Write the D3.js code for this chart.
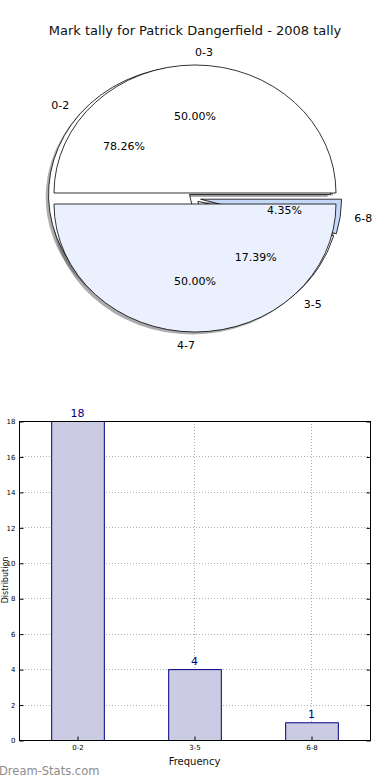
<!DOCTYPE html>
<html>
<head>
<meta charset="utf-8">
<script src="https://cdn.jsdelivr.net/npm/d3@7"></script>
<style>
  body { margin: 0; background: #fff; }
  svg { display: block; font-family: "DejaVu Sans", sans-serif; }
</style>
</head>
<body>
<script>
const width = 390;
const height = 780;

// outer pie (drawn first, mostly hidden)
const binLabels = ["0-2", "3-5", "6-8"];
const binValues = [18, 4, 1];
const binExplode = [0.05, 0.03, 0.04];
const binColors = ["#ffffff", "#ffffff", "#c6d8f8"];

// front pie
const halfLabels = ["0-3", "4-7"];
const halfValues = [50, 50];
const halfExplode = [0.043, 0.043];
const halfColors = ["#ffffff", "#eaf0fd"];

// bar chart
const barCats = ["0-2", "3-5", "6-8"];
const barValues = [18, 4, 1];
const yTicks = [0, 2, 4, 6, 8, 10, 12, 14, 16, 18];

const svg = d3.select("body").append("svg")
  .attr("width", width)
  .attr("height", height);

svg.append("text")
  .attr("x", 195).attr("y", 35)
  .attr("text-anchor", "middle")
  .attr("font-size", 13)
  .attr("fill", "#111")
  .text("Mark tally for Patrick Dangerfield - 2008 tally");

// ---- pies ----
const cx = 195, cy = 198.5, rx = 141, ry = 128;
const unit = 100;
const arc = d3.arc().innerRadius(0).outerRadius(unit);

function layout(values, explode) {
  // counterclockwise from 3 o'clock, like matplotlib
  const total = d3.sum(values);
  const arcs = d3.pie().sort(null)
    .startAngle(Math.PI / 2)
    .endAngle(Math.PI / 2 - 2 * Math.PI)(values);
  let acc = 0;
  return arcs.map((a, i) => {
    const t1 = 360 * acc / total;
    acc += values[i];
    const t2 = 360 * acc / total;
    const thetam = 2 * Math.PI * (t1 + t2) / 2 / 360;
    const ux = Math.cos(thetam), uy = -Math.sin(thetam);
    return {
      a, i, ux, uy,
      ox: cx + explode[i] * rx * ux,
      oy: cy + explode[i] * ry * uy
    };
  });
}

const back = layout(binValues, binExplode);
const front = layout(halfValues, halfExplode);

const pieG = svg.append("g");

function wedgeTransform(d, dx, dy) {
  return `translate(${d.ox + dx},${d.oy + dy}) scale(${rx / unit},${ry / unit})`;
}

// shadows of both pies sit under all wedges
function shadows(data, colors) {
  pieG.append("g").selectAll("path")
    .data(data).join("path")
    .attr("d", d => arc(d.a))
    .attr("transform", d => wedgeTransform(d, -0.02 * rx, 0.02 * ry))
    .attr("fill", d => {
      const c = d3.rgb(colors[d.i]);
      return d3.rgb(c.r * 0.3, c.g * 0.3, c.b * 0.3);
    })
    .attr("fill-opacity", 0.45);
}
shadows(back, binColors);
shadows(front, halfColors);

function wedges(data, colors) {
  pieG.append("g").selectAll("path")
    .data(data).join("path")
    .attr("d", d => arc(d.a))
    .attr("transform", d => wedgeTransform(d, 0, 0))
    .attr("fill", d => colors[d.i])
    .attr("stroke", "#000")
    .attr("stroke-width", 0.8)
    .attr("stroke-linejoin", "miter")
    .attr("vector-effect", "non-scaling-stroke");
}
wedges(back, binColors);
wedges(front, halfColors);

function texts(data, labels, values) {
  const total = d3.sum(values);
  const g = pieG.append("g").attr("font-size", 11).attr("fill", "#000");
  g.selectAll("text.lab")
    .data(data).join("text")
    .attr("class", "lab")
    .attr("x", d => d.ox + 1.1 * rx * d.ux)
    .attr("y", d => d.oy + 1.1 * ry * d.uy)
    .attr("dy", "0.35em")
    .attr("text-anchor", d => d.ux > 0 ? "start" : "end")
    .text(d => labels[d.i]);
  g.selectAll("text.pct")
    .data(data).join("text")
    .attr("class", "pct")
    .attr("x", d => d.ox + 0.6 * rx * d.ux)
    .attr("y", d => d.oy + 0.6 * ry * d.uy)
    .attr("dy", "0.35em")
    .attr("text-anchor", "middle")
    .text(d => (values[d.i] / total * 100).toFixed(2) + "%");
}
texts(back, binLabels, binValues);
texts(front, halfLabels, halfValues);

// ---- bar chart ----
const plotL = 19, plotR = 370, plotT = 421, plotB = 740;

const x = d3.scaleBand()
  .domain(barCats)
  .range([plotL, plotR])
  .paddingInner(0.55)
  .paddingOuter(0.275);

const y = d3.scaleLinear().domain([0, 18]).range([plotB, plotT]);

const grid = svg.append("g")
  .attr("stroke", "#b0b0b0")
  .attr("stroke-width", 1)
  .attr("stroke-dasharray", "1,2");
grid.selectAll("line.h")
  .data(yTicks.slice(1, -1)).join("line")
  .attr("class", "h")
  .attr("x1", plotL).attr("x2", plotR)
  .attr("y1", d => Math.round(y(d)) + 0.5).attr("y2", d => Math.round(y(d)) + 0.5);

svg.append("g").selectAll("rect")
  .data(barValues).join("rect")
  .attr("x", (d, i) => x(barCats[i]) + 0.5)
  .attr("y", d => y(d) + 0.5)
  .attr("width", x.bandwidth())
  .attr("height", d => y(0) - y(d))
  .attr("fill", "#cbcbe3")
  .attr("stroke", "#000080")
  .attr("stroke-width", 1);

grid.selectAll("line.v")
  .data(barCats).join("line")
  .attr("class", "v")
  .attr("x1", d => Math.round(x(d) + x.bandwidth() / 2) + 0.5)
  .attr("x2", d => Math.round(x(d) + x.bandwidth() / 2) + 0.5)
  .attr("y1", plotT).attr("y2", plotB);

svg.append("g")
  .attr("font-size", 11)
  .attr("fill", "#00008b")
  .attr("text-anchor", "middle")
  .selectAll("text")
  .data(barValues).join("text")
  .attr("x", (d, i) => x(barCats[i]) + x.bandwidth() / 2)
  .attr("y", d => y(d) - 4)
  .text(d => d);

// axes (ticks pointing inward)
const yAxis = d3.axisLeft(y).tickValues(yTicks).tickSize(-4).tickPadding(4);
const yAx = svg.append("g")
  .attr("transform", `translate(${plotL + 0.5},0.5)`)
  .call(yAxis);
yAx.select(".domain").remove();
yAx.selectAll("text").attr("font-size", 7).attr("fill", "#000").attr("font-family", "DejaVu Sans");

const yAxisR = d3.axisRight(y).tickValues(yTicks).tickSize(-4).tickFormat("");
const yAxR = svg.append("g")
  .attr("transform", `translate(${plotR + 0.5},0.5)`)
  .call(yAxisR);
yAxR.select(".domain").remove();

const xAxis = d3.axisBottom(x).tickSize(-4).tickPadding(5);
const xAx = svg.append("g")
  .attr("transform", `translate(0.5,${plotB + 0.5})`)
  .call(xAxis);
xAx.select(".domain").remove();
xAx.selectAll("text").attr("font-size", 7).attr("fill", "#000").attr("font-family", "DejaVu Sans");

svg.append("rect")
  .attr("x", plotL + 0.5).attr("y", plotT + 0.5)
  .attr("width", plotR - plotL).attr("height", plotB - plotT)
  .attr("fill", "none")
  .attr("stroke", "#000")
  .attr("stroke-width", 1);

svg.append("text")
  .attr("x", (plotL + plotR) / 2).attr("y", 765)
  .attr("text-anchor", "middle")
  .attr("font-size", 10)
  .attr("fill", "#111")
  .text("Frequency");

svg.append("text")
  .attr("transform", `translate(8,580) rotate(-90)`)
  .attr("text-anchor", "middle")
  .attr("font-size", 8)
  .attr("fill", "#111")
  .text("Distribution");

svg.append("text")
  .attr("x", -1).attr("y", 775)
  .attr("font-size", 11.5)
  .attr("fill", "#8c8c8c")
  .text("Dream-Stats.com");
</script>
</body>
</html>
